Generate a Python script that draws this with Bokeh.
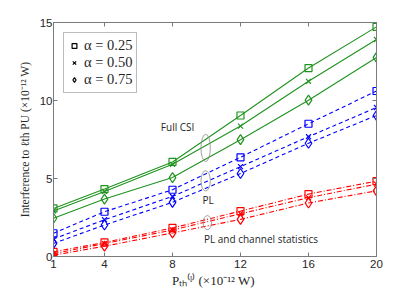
from bokeh.plotting import figure
from bokeh.models import (ColumnDataSource, LinearAxis, Legend, LegendItem, Range1d,
                          FixedTicker, Label, CustomJSTickFormatter)
from bokeh.embed import file_html
from bokeh.resources import INLINE

# ---- data ----
x_vals = [1, 4, 8, 12, 16, 20]
full_025 = [3.08, 4.32, 6.06, 9.04, 12.08, 14.72]
full_050 = [2.92, 4.17, 5.91, 8.36, 11.23, 13.91]
full_075 = [2.45, 3.68, 5.06, 7.49, 10.02, 12.76]
pl_025 = [1.49, 2.87, 4.28, 6.36, 8.51, 10.61]
pl_050 = [1.12, 2.36, 3.85, 5.76, 7.68, 9.55]
pl_075 = [0.84, 2.02, 3.47, 5.32, 7.26, 9.04]
st_025 = [0.30, 0.90, 1.83, 2.91, 4.00, 4.83]
st_050 = [0.18, 0.83, 1.70, 2.74, 3.77, 4.64]
st_075 = [0.08, 0.66, 1.51, 2.38, 3.43, 4.21]
alpha_labels = ["\u03b1 = 0.25", "\u03b1 = 0.50", "\u03b1 = 0.75"]
x_ticks = [1, 4, 8, 12, 16, 20]
y_ticks = [0, 5, 10, 15]

GREEN = "#1f921f"
BLUE = "#0000ff"
RED = "#ff0000"
AXIS_C = "#7a7a7a"
TXT_C = "#262626"

p = figure(width=400, height=290, output_backend="svg", toolbar_location=None,
           x_range=Range1d(1, 20), y_range=Range1d(0, 15),
           min_border_left=53, min_border_right=24, min_border_top=22, min_border_bottom=33)
p.grid.visible = False
p.outline_line_color = AXIS_C
p.outline_line_width = 1

for ax in (p.xaxis[0], p.yaxis[0]):
    ax.axis_line_color = AXIS_C
    ax.major_tick_line_color = AXIS_C
    ax.major_tick_in = 4
    ax.major_tick_out = 0
    ax.minor_tick_line_color = None
    ax.major_label_text_font = "Liberation Sans"
    ax.major_label_text_font_size = "11.5px"
    ax.major_label_text_color = TXT_C
    ax.axis_label_text_font = "Liberation Serif"
    ax.axis_label_text_font_style = "normal"
    ax.axis_label_text_color = TXT_C
p.xaxis[0].ticker = FixedTicker(ticks=x_ticks)
p.yaxis[0].ticker = FixedTicker(ticks=y_ticks)
p.xaxis[0].major_label_standoff = 3
p.yaxis[0].major_label_standoff = 1
p.xaxis[0].axis_label = "P\u209c\u2095\u207d\u02e1\u207e  (\u00d710\u207b\u00b9\u00b2 W)"
p.xaxis[0].axis_label_text_font_size = "13px"
p.yaxis[0].axis_label = "Interference to \u2113th PU (\u00d710\u207b\u00b9\u00b2 W)"
p.yaxis[0].axis_label_text_font_size = "11.5px"
p.xaxis[0].axis_label_standoff = 2
p.yaxis[0].axis_label_standoff = 6

blank = CustomJSTickFormatter(code="return ''")
top = LinearAxis(ticker=FixedTicker(ticks=x_ticks), formatter=blank,
                 axis_line_color=AXIS_C, major_tick_line_color=AXIS_C,
                 major_tick_in=4, major_tick_out=0, minor_tick_line_color=None)
right = LinearAxis(ticker=FixedTicker(ticks=y_ticks), formatter=blank,
                   axis_line_color=AXIS_C, major_tick_line_color=AXIS_C,
                   major_tick_in=4, major_tick_out=0, minor_tick_line_color=None)
p.add_layout(top, "above")
p.add_layout(right, "right")

markers = ["square", "x", "diamond"]
sizes = [7, 7, 10]
groups = [
    (GREEN, "solid", [full_025, full_050, full_075]),
    (BLUE, "4 3", [pl_025, pl_050, pl_075]),
    (RED, "5 2 1 2", [st_025, st_050, st_075]),
]
for color, dash, series in groups:
    for ys, m, s in zip(series, markers, sizes):
        src = ColumnDataSource(dict(x=x_vals, y=ys))
        p.line("x", "y", source=src, line_color=color, line_width=1.1, line_dash=dash)
        p.scatter("x", "y", source=src, marker=m, size=s, line_color=color,
                  fill_color=None, line_width=1.2)

# ellipses grouping the families
p.ellipse(x=[9.95, 9.95, 10.05], y=[6.96, 4.85, 2.17], width=[0.55, 0.55, 0.5],
          height=[1.75, 1.3, 0.9], fill_color=None, line_color="#8a8a8a", line_width=0.8)

ann_font = "Open Sans"
p.add_layout(Label(x=8.3, y=8.3, text="Full CSI", text_font=ann_font, text_font_size="10px",
                   text_color=TXT_C, text_align="center", text_baseline="middle"))
p.add_layout(Label(x=10.1, y=3.64, text="PL", text_font=ann_font, text_font_size="10px",
                   text_color=TXT_C, text_align="center", text_baseline="middle"))
p.add_layout(Label(x=9.85, y=1.15, text="PL and channel statistics", text_font=ann_font,
                   text_font_size="10px", text_color=TXT_C, text_align="left",
                   text_baseline="middle"))

# legend with black markers
items = []
for lab, m, s in zip(alpha_labels, markers, [6, 6, 8]):
    r = p.scatter(x=[float("nan")], y=[float("nan")], marker=m, size=s,
                  line_color="black", fill_color=None, line_width=1.2)
    items.append(LegendItem(label=lab, renderers=[r]))
leg = Legend(items=items, location="top_left", margin=10, padding=4, spacing=0,
             glyph_width=12, glyph_height=15, label_standoff=4,
             label_text_font="Liberation Serif", label_text_font_size="14.5px",
             label_text_color=TXT_C, label_height=15,
             border_line_color=AXIS_C, border_line_width=1,
             background_fill_color="white", background_fill_alpha=1)
p.add_layout(leg, "center")

open("out.html", "w").write(file_html(p, INLINE))
